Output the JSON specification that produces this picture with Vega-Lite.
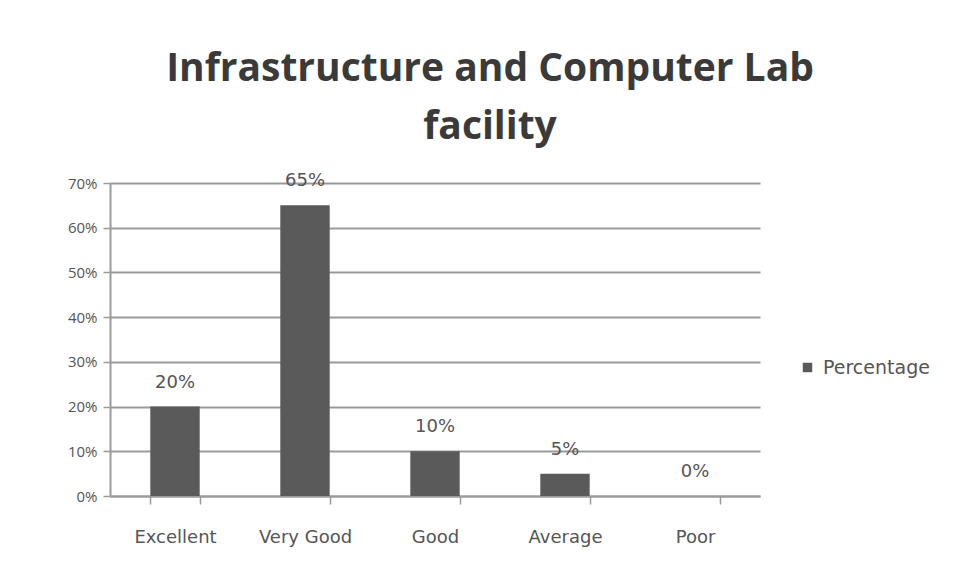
{
  "$schema": "https://vega.github.io/schema/vega-lite/v6.json",
  "width": 650,
  "height": 313,
  "autosize": {"type": "none"},
  "padding": {"left": 110, "top": 183, "right": 198, "bottom": 79},
  "background": "white",
  "title": {
    "text": ["Infrastructure and Computer Lab", "facility"],
    "font": "Open Sans",
    "fontSize": 39,
    "fontWeight": "bold",
    "color": "#3a3a3a",
    "anchor": "middle",
    "frame": "group",
    "dx": 55,
    "offset": 25,
    "lineHeight": 58
  },
  "data": {
    "values": [
      {"Rating": "Excellent", "Percentage": 0.20},
      {"Rating": "Very Good", "Percentage": 0.65},
      {"Rating": "Good", "Percentage": 0.10},
      {"Rating": "Average", "Percentage": 0.05},
      {"Rating": "Poor", "Percentage": 0.0}
    ]
  },
  "encoding": {
    "x": {
      "field": "Rating",
      "type": "nominal",
      "sort": null,
      "scale": {"paddingInner": 0.62, "paddingOuter": 0.31},
      "axis": {
        "title": null,
        "labelAngle": 0,
        "labelFont": "DejaVu Sans",
        "labelFontSize": 18,
        "labelColor": "#555555",
        "labelPadding": 24,
        "domainColor": "#9a9a9a",
        "domainWidth": 2,
        "tickColor": "#9a9a9a",
        "tickWidth": 1.5,
        "tickSize": 8,
        "tickBand": "extent",
        "grid": false
      }
    },
    "y": {
      "field": "Percentage",
      "type": "quantitative",
      "scale": {"domain": [0, 0.7]},
      "axis": {
        "title": null,
        "format": ".0%",
        "values": [0, 0.1, 0.2, 0.3, 0.4, 0.5, 0.6, 0.7],
        "labelFont": "Open Sans",
        "labelFontSize": 15,
        "labelColor": "#555555",
        "labelPadding": 6,
        "domainColor": "#9a9a9a",
        "domainWidth": 2,
        "tickColor": "#9a9a9a",
        "tickSize": 7,
        "tickWidth": 1.5,
        "grid": true,
        "gridColor": "#9a9a9a",
        "gridWidth": 2
      }
    }
  },
  "layer": [
    {
      "mark": {"type": "bar", "color": "#5a5a5a"},
      "encoding": {
        "color": {
          "datum": "Percentage",
          "type": "nominal",
          "scale": {"range": ["#5a5a5a"]},
          "legend": {
            "title": null,
            "orient": "none",
            "legendX": 688,
            "legendY": 175,
            "symbolType": "square",
            "symbolSize": 90,
            "labelFont": "DejaVu Sans",
            "labelFontSize": 19,
            "labelColor": "#555555",
            "labelOffset": 6
          }
        }
      }
    },
    {
      "mark": {
        "type": "text",
        "baseline": "bottom",
        "dy": -15,
        "font": "DejaVu Sans",
        "fontSize": 18,
        "color": "#555555"
      },
      "encoding": {
        "text": {"field": "Percentage", "type": "quantitative", "format": ".0%"}
      }
    }
  ],
  "config": {
    "view": {"stroke": null}
  }
}
